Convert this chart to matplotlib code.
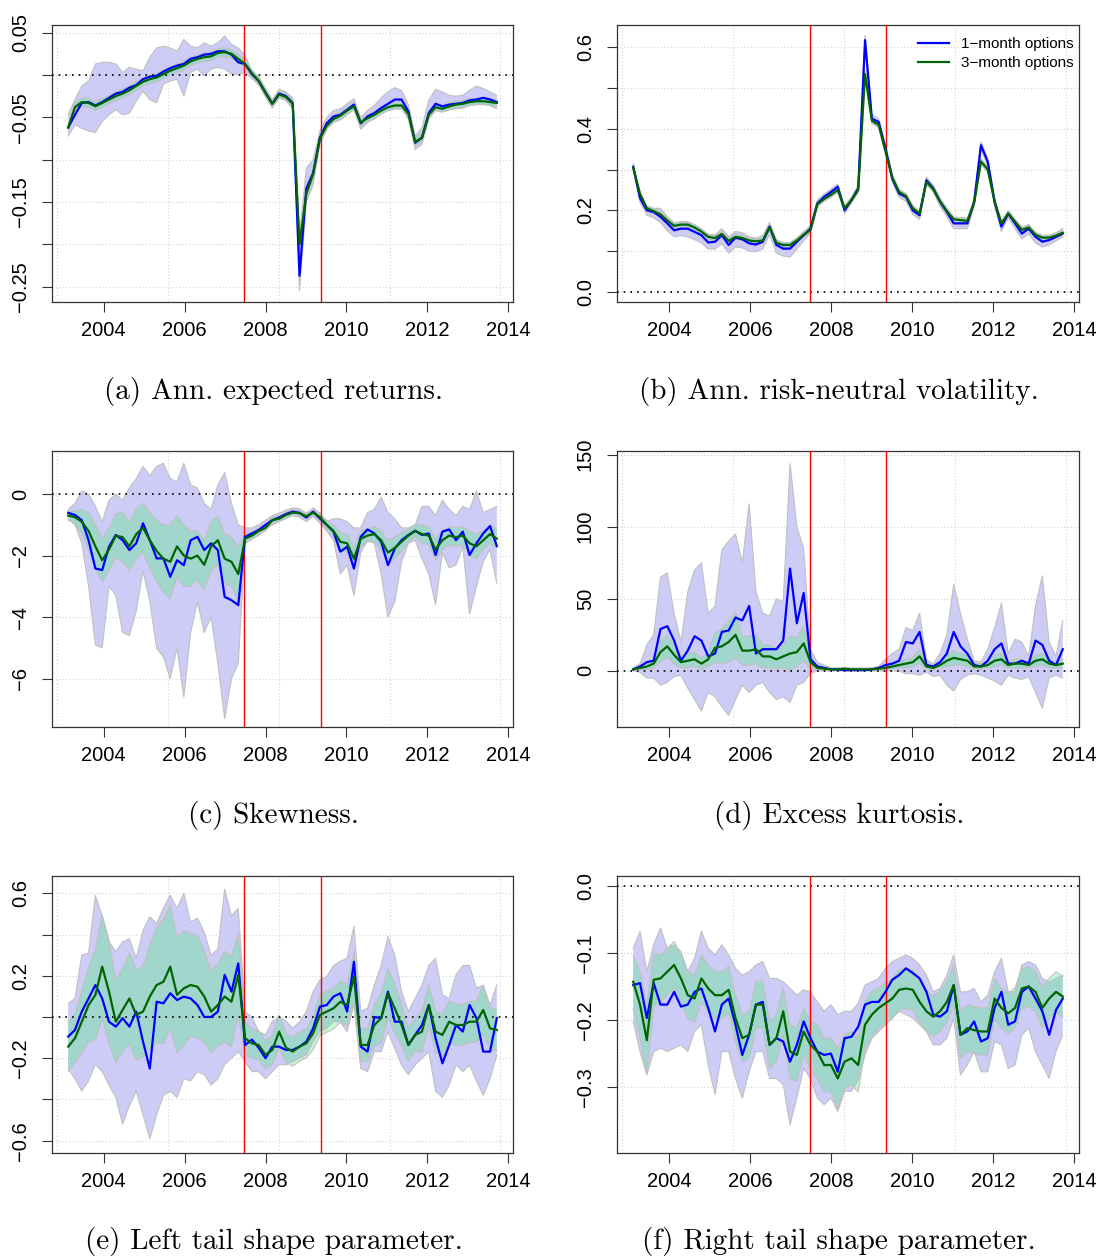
import numpy as np
import matplotlib.pyplot as plt
from matplotlib.ticker import FixedLocator, FixedFormatter

plt.rcParams['font.family'] = ['Liberation Sans', 'DejaVu Sans']

# observation dates (two-monthly, spring 2003 to autumn 2013)
DATES = np.linspace(2003.12, 2013.72, 64)
BREAKS = [2007.48, 2009.36]
YEARS = [2004, 2006, 2008, 2010, 2012, 2014]
GRID_DAYS = [12000, 13000, 14000, 15000, 16000]

# (a) annualised expected returns
A_BLUE = [-0.062, -0.047, -0.033, -0.032, -0.036, -0.032, -0.027, -0.022,
          -0.020, -0.015, -0.012, -0.005, -0.002, -0.001, 0.004, 0.008,
          0.011, 0.013, 0.019, 0.021, 0.024, 0.025, 0.028, 0.028,
          0.024, 0.015, 0.013, 0.001, -0.007, -0.021, -0.034, -0.022,
          -0.025, -0.033, -0.237, -0.134, -0.116, -0.074, -0.057, -0.049,
          -0.047, -0.041, -0.035, -0.057, -0.049, -0.045, -0.039, -0.034,
          -0.029, -0.029, -0.043, -0.080, -0.074, -0.045, -0.034, -0.037,
          -0.035, -0.034, -0.033, -0.030, -0.029, -0.027, -0.029, -0.032]
A_GREEN = [-0.062, -0.038, -0.032, -0.033, -0.037, -0.033, -0.029, -0.025,
           -0.022, -0.018, -0.013, -0.008, -0.005, -0.003, 0.001, 0.005,
           0.008, 0.011, 0.016, 0.019, 0.021, 0.022, 0.026, 0.027,
           0.025, 0.019, 0.013, 0.002, -0.007, -0.021, -0.034, -0.023,
           -0.026, -0.034, -0.200, -0.140, -0.117, -0.075, -0.060, -0.052,
           -0.048, -0.042, -0.037, -0.056, -0.051, -0.047, -0.042, -0.038,
           -0.036, -0.036, -0.046, -0.079, -0.074, -0.047, -0.038, -0.040,
           -0.037, -0.035, -0.034, -0.032, -0.031, -0.031, -0.032, -0.033]
A_HI = [-0.047, -0.029, -0.013, -0.007, 0.013, 0.015, 0.015, 0.013,
        0.003, 0.009, 0.007, 0.005, 0.021, 0.032, 0.034, 0.032,
        0.028, 0.042, 0.034, 0.032, 0.038, 0.034, 0.038, 0.046,
        0.036, 0.032, 0.023, 0.005, -0.002, -0.016, -0.029, -0.017,
        -0.020, -0.027, -0.190, -0.110, -0.100, -0.066, -0.050, -0.042,
        -0.040, -0.034, -0.028, -0.050, -0.042, -0.036, -0.027, -0.020,
        -0.015, -0.018, -0.035, -0.072, -0.062, -0.030, -0.017, -0.020,
        -0.024, -0.025, -0.024, -0.018, -0.013, -0.016, -0.020, -0.024]
A_LO = [-0.072, -0.059, -0.063, -0.066, -0.068, -0.055, -0.047, -0.041,
        -0.047, -0.045, -0.031, -0.019, -0.029, -0.033, -0.011, -0.007,
        -0.005, -0.025, 0.003, 0.007, -0.001, 0.007, 0.009, 0.007,
        0.001, 0.001, 0.003, -0.004, -0.012, -0.026, -0.039, -0.027,
        -0.030, -0.040, -0.255, -0.150, -0.130, -0.082, -0.064, -0.056,
        -0.053, -0.047, -0.041, -0.064, -0.056, -0.052, -0.046, -0.042,
        -0.040, -0.040, -0.052, -0.088, -0.082, -0.052, -0.042, -0.043,
        -0.041, -0.040, -0.039, -0.036, -0.035, -0.034, -0.036, -0.040]
A_GHW = [0.004, 0.005, 0.005, 0.005, 0.005, 0.005, 0.005, 0.005,
         0.005, 0.005, 0.005, 0.005, 0.005, 0.005, 0.005, 0.005,
         0.005, 0.005, 0.005, 0.005, 0.005, 0.005, 0.005, 0.005,
         0.005, 0.005, 0.004, 0.004, 0.004, 0.004, 0.004, 0.004,
         0.004, 0.005, 0.010, 0.008, 0.006, 0.005, 0.004, 0.004,
         0.004, 0.004, 0.004, 0.004, 0.004, 0.004, 0.004, 0.004,
         0.004, 0.004, 0.004, 0.005, 0.005, 0.004, 0.004, 0.004,
         0.004, 0.004, 0.004, 0.004, 0.004, 0.004, 0.004, 0.004]

# (b) annualised risk-neutral volatility
B_BLUE = [0.307, 0.230, 0.200, 0.196, 0.184, 0.168, 0.151, 0.155,
          0.155, 0.147, 0.139, 0.121, 0.123, 0.139, 0.115, 0.133,
          0.129, 0.119, 0.116, 0.123, 0.160, 0.115, 0.106, 0.106,
          0.123, 0.139, 0.155, 0.217, 0.233, 0.245, 0.258, 0.200,
          0.225, 0.254, 0.618, 0.425, 0.417, 0.352, 0.278, 0.241,
          0.233, 0.200, 0.188, 0.274, 0.254, 0.221, 0.196, 0.168,
          0.168, 0.168, 0.221, 0.360, 0.319, 0.221, 0.160, 0.192,
          0.168, 0.143, 0.155, 0.135, 0.123, 0.127, 0.135, 0.143]
B_GREEN = [0.305, 0.240, 0.205, 0.198, 0.190, 0.175, 0.162, 0.165,
           0.165, 0.158, 0.148, 0.135, 0.132, 0.142, 0.125, 0.135,
           0.132, 0.126, 0.124, 0.126, 0.158, 0.120, 0.115, 0.115,
           0.126, 0.140, 0.152, 0.215, 0.228, 0.238, 0.250, 0.205,
           0.225, 0.250, 0.535, 0.420, 0.410, 0.345, 0.280, 0.245,
           0.235, 0.205, 0.192, 0.270, 0.252, 0.222, 0.198, 0.178,
           0.176, 0.174, 0.218, 0.320, 0.300, 0.222, 0.168, 0.192,
           0.172, 0.152, 0.158, 0.140, 0.133, 0.133, 0.138, 0.145]
B_HI = [0.315, 0.240, 0.210, 0.205, 0.205, 0.185, 0.170, 0.172,
        0.172, 0.165, 0.155, 0.140, 0.140, 0.155, 0.135, 0.148,
        0.145, 0.135, 0.132, 0.138, 0.170, 0.128, 0.120, 0.120,
        0.132, 0.148, 0.162, 0.225, 0.240, 0.252, 0.265, 0.210,
        0.232, 0.262, 0.630, 0.435, 0.425, 0.360, 0.288, 0.250,
        0.242, 0.210, 0.198, 0.282, 0.262, 0.230, 0.205, 0.182,
        0.182, 0.180, 0.228, 0.368, 0.328, 0.230, 0.170, 0.200,
        0.178, 0.158, 0.165, 0.145, 0.135, 0.138, 0.145, 0.155]
B_LO = [0.298, 0.220, 0.188, 0.182, 0.170, 0.150, 0.135, 0.138,
        0.135, 0.128, 0.120, 0.105, 0.105, 0.118, 0.095, 0.110,
        0.108, 0.100, 0.098, 0.105, 0.140, 0.095, 0.088, 0.085,
        0.105, 0.125, 0.145, 0.208, 0.225, 0.238, 0.250, 0.192,
        0.218, 0.246, 0.600, 0.415, 0.405, 0.340, 0.268, 0.232,
        0.222, 0.190, 0.178, 0.265, 0.245, 0.210, 0.185, 0.155,
        0.155, 0.155, 0.210, 0.350, 0.308, 0.210, 0.148, 0.182,
        0.155, 0.130, 0.142, 0.120, 0.110, 0.115, 0.125, 0.135]
B_GHW = [0.006, 0.006, 0.006, 0.006, 0.006, 0.006, 0.006, 0.006,
         0.006, 0.006, 0.006, 0.006, 0.006, 0.006, 0.006, 0.006,
         0.006, 0.006, 0.006, 0.006, 0.006, 0.006, 0.006, 0.006,
         0.006, 0.006, 0.006, 0.006, 0.006, 0.006, 0.006, 0.006,
         0.006, 0.006, 0.008, 0.007, 0.007, 0.006, 0.006, 0.006,
         0.006, 0.006, 0.006, 0.006, 0.006, 0.006, 0.006, 0.006,
         0.006, 0.006, 0.006, 0.007, 0.007, 0.006, 0.006, 0.006,
         0.006, 0.006, 0.006, 0.006, 0.006, 0.006, 0.006, 0.006]

# (c) skewness
C_BLUE = [-0.61, -0.68, -0.85, -1.50, -2.42, -2.47, -1.71, -1.33,
          -1.50, -1.82, -1.60, -0.95, -1.50, -2.09, -2.09, -2.69,
          -2.15, -2.31, -1.50, -1.39, -1.82, -1.60, -1.82, -3.34,
          -3.45, -3.61, -1.39, -1.28, -1.17, -1.00, -0.85, -0.76,
          -0.65, -0.57, -0.61, -0.76, -0.57, -0.79, -1.00, -1.22,
          -1.87, -1.71, -2.42, -1.39, -1.15, -1.28, -1.55, -2.31,
          -1.77, -1.50, -1.33, -1.19, -1.33, -1.28, -1.98, -1.22,
          -1.15, -1.50, -1.22, -1.98, -1.60, -1.28, -1.04, -1.69]
C_GREEN = [-0.70, -0.75, -0.90, -1.20, -1.70, -2.15, -1.80, -1.35,
           -1.40, -1.70, -1.30, -1.10, -1.50, -1.85, -2.10, -2.20,
           -1.70, -2.00, -2.10, -2.00, -2.30, -1.70, -1.50, -2.10,
           -2.20, -2.60, -1.45, -1.35, -1.20, -1.10, -0.85, -0.80,
           -0.68, -0.60, -0.62, -0.72, -0.60, -0.75, -1.00, -1.20,
           -1.55, -1.60, -2.10, -1.45, -1.35, -1.30, -1.50, -1.90,
           -1.75, -1.55, -1.35, -1.20, -1.30, -1.35, -1.80, -1.50,
           -1.35, -1.40, -1.35, -1.60, -1.70, -1.50, -1.30, -1.45]
C_HI = [-0.50, -0.30, 0.10, 0.00, -0.40, -0.90, -0.20, 0.00,
        -0.20, 0.20, 0.50, 0.90, 0.60, 0.90, 1.00, 0.50,
        0.40, 1.00, 0.30, 0.20, -0.30, -0.50, 0.30, 0.70,
        -0.30, -1.00, -1.10, -1.10, -1.00, -0.85, -0.70, -0.62,
        -0.52, -0.45, -0.48, -0.62, -0.45, -0.62, -0.90, -0.80,
        -0.80, -0.90, -1.10, -1.10, -0.60, -0.50, -0.10, -0.60,
        -0.80, -1.10, -1.10, -1.00, -0.40, -0.40, -0.70, -0.20,
        -0.50, -0.70, -0.40, -0.50, 0.10, -0.60, -0.50, -0.40]
C_LO = [-0.80, -1.00, -1.60, -3.00, -4.90, -5.00, -3.00, -3.30,
        -4.50, -4.60, -3.80, -2.50, -3.50, -5.00, -5.30, -6.00,
        -5.00, -6.60, -4.50, -3.50, -4.50, -4.00, -5.50, -7.30,
        -6.00, -5.50, -1.60, -1.45, -1.35, -1.15, -1.00, -0.90,
        -0.80, -0.70, -0.75, -0.90, -0.72, -0.95, -1.20, -1.50,
        -2.60, -2.30, -3.30, -1.90, -1.50, -1.60, -2.60, -4.00,
        -3.50, -2.20, -1.60, -1.50, -2.10, -2.60, -3.60, -1.90,
        -2.40, -2.30, -1.70, -3.90, -3.00, -2.20, -1.80, -2.90]
C_GHW = [0.15, 0.20, 0.40, 0.60, 0.70, 0.70, 0.70, 0.70,
         0.80, 0.80, 0.80, 0.80, 0.90, 1.00, 1.10, 1.20,
         1.00, 1.00, 0.90, 0.80, 0.80, 0.80, 0.80, 0.80,
         0.80, 0.90, 0.15, 0.12, 0.10, 0.10, 0.10, 0.08,
         0.08, 0.08, 0.08, 0.08, 0.08, 0.10, 0.15, 0.20,
         0.30, 0.30, 0.35, 0.25, 0.20, 0.25, 0.30, 0.40,
         0.35, 0.30, 0.20, 0.20, 0.30, 0.30, 0.35, 0.30,
         0.30, 0.30, 0.30, 0.40, 0.40, 0.30, 0.30, 0.30]

# (d) excess kurtosis
D_BLUE = [1, 3, 6, 7, 29, 31, 21, 7,
          14, 24, 21, 10, 12, 27, 28, 37,
          35, 45, 12, 15, 15, 15, 21, 71,
          33, 54, 8, 3, 2, 1, 1, 0.5,
          0.5, 0.5, 0.5, 1, 2, 4, 5, 7,
          20, 19, 27, 4, 3, 6, 12, 27,
          17, 12, 4, 3, 7, 15, 19, 5,
          5, 7, 5, 21, 18, 7, 4, 15]
D_GREEN = [1, 2, 3, 5, 13, 17, 11, 6,
           7, 8, 5, 8, 16, 17, 20, 25,
           14, 14, 15, 10, 10, 8, 10, 12,
           13, 19, 6, 2, 1.5, 1, 1, 1.5,
           1, 1, 1, 1, 1.5, 2, 3, 4,
           5, 6, 10, 3, 2, 4, 7, 9,
           8, 7, 3, 3, 4, 7, 8, 4,
           5, 5, 4, 7, 8, 5, 4, 5]
D_HI = [2, 5, 18, 25, 65, 68, 40, 20,
        55, 70, 75, 40, 45, 84, 90, 95,
        75, 116, 55, 40, 38, 50, 48, 144,
        100, 85, 15, 6, 4, 2, 2, 2,
        2, 2, 2, 2, 3, 8, 12, 15,
        30, 28, 40, 8, 5, 12, 25, 60,
        40, 22, 7, 6, 15, 30, 47, 12,
        22, 20, 10, 45, 66, 20, 10, 35]
D_LO = [0, -1, -5, -5, -10, -8, -4, -3,
        -12, -20, -28, -15, -18, -25, -31, -20,
        -10, -15, -10, -8, -15, -20, -18, -22,
        -10, -8, -2, 0, 0, 0, 0, 0,
        0, 0, 0, 0, 0, 0, 0, 0,
        -2, -2, -3, -1, -4, -3, -10, -14,
        -6, -3, -2, -3, -5, -7, -10, -3,
        -5, -6, -4, -15, -26, -5, -3, -5]
D_GHW = [0.5, 1, 2, 3, 7, 8, 6, 4,
         5, 5, 4, 5, 10, 12, 14, 16,
         10, 10, 10, 8, 8, 7, 8, 12,
         10, 12, 5, 1, 1, 0.5, 0.5, 0.5,
         0.5, 0.5, 0.5, 0.5, 0.5, 1, 1.5, 2,
         3, 3, 5, 2, 1.5, 2, 4, 5,
         4, 4, 2, 2, 2, 4, 4, 2,
         3, 3, 2, 4, 4, 3, 2, 3]

# (e) left tail shape parameter
E_BLUE = [-0.095, -0.063, 0.026, 0.090, 0.155, 0.090, -0.023, -0.047,
          -0.006, -0.047, 0.026, -0.120, -0.250, 0.074, 0.066, 0.115,
          0.082, 0.099, 0.090, 0.058, 0.000, 0.000, 0.026, 0.204,
          0.123, 0.260, -0.136, -0.110, -0.149, -0.200, -0.144, -0.144,
          -0.160, -0.160, -0.144, -0.120, -0.055, 0.050, 0.058, 0.099,
          0.115, 0.026, 0.268, -0.144, -0.168, 0.000, -0.006, 0.123,
          -0.023, -0.023, -0.136, -0.087, -0.039, 0.058, -0.103, -0.225,
          -0.136, -0.039, -0.071, 0.058, -0.006, -0.168, -0.168, -0.006]
E_GREEN = [-0.144, -0.103, -0.023, 0.058, 0.107, 0.244, 0.123, -0.023,
           0.034, 0.090, 0.010, 0.026, 0.099, 0.155, 0.171, 0.244,
           0.107, 0.139, 0.155, 0.147, 0.099, 0.026, 0.058, 0.099,
           0.074, 0.204, -0.103, -0.128, -0.136, -0.184, -0.160, -0.071,
           -0.149, -0.168, -0.144, -0.128, -0.079, 0.010, 0.026, 0.042,
           0.074, 0.058, 0.196, -0.136, -0.136, -0.039, -0.006, 0.115,
           0.042, -0.039, -0.136, -0.087, -0.071, 0.058, -0.071, -0.087,
           -0.023, -0.039, -0.039, -0.023, -0.023, 0.034, -0.055, -0.063]
E_HI = [0.066, 0.090, 0.300, 0.310, 0.590, 0.490, 0.365, 0.317,
        0.365, 0.380, 0.285, 0.420, 0.486, 0.454, 0.527, 0.590,
        0.527, 0.600, 0.460, 0.480, 0.410, 0.300, 0.330, 0.620,
        0.490, 0.527, 0.026, 0.000, -0.070, -0.087, -0.023, 0.000,
        -0.020, -0.055, -0.023, 0.026, 0.123, 0.180, 0.196, 0.250,
        0.270, 0.285, 0.440, 0.026, 0.042, 0.155, 0.250, 0.390,
        0.300, 0.123, 0.026, 0.090, 0.155, 0.250, 0.285, 0.107,
        0.090, 0.204, 0.250, 0.250, 0.139, 0.155, 0.058, 0.155]
E_LO = [-0.250, -0.300, -0.360, -0.310, -0.230, -0.265, -0.330, -0.390,
        -0.520, -0.430, -0.360, -0.475, -0.590, -0.475, -0.380, -0.360,
        -0.390, -0.300, -0.310, -0.265, -0.280, -0.330, -0.300, -0.230,
        -0.200, -0.168, -0.217, -0.265, -0.265, -0.300, -0.265, -0.230,
        -0.233, -0.217, -0.200, -0.184, -0.120, -0.071, -0.055, -0.023,
        -0.023, -0.071, 0.058, -0.250, -0.265, -0.168, -0.168, -0.071,
        -0.152, -0.233, -0.280, -0.233, -0.200, -0.168, -0.360, -0.390,
        -0.330, -0.233, -0.265, -0.233, -0.310, -0.380, -0.300, -0.184]
E_GHW = [0.12, 0.12, 0.15, 0.18, 0.22, 0.25, 0.25, 0.20,
         0.20, 0.22, 0.22, 0.22, 0.25, 0.28, 0.30, 0.30,
         0.28, 0.28, 0.25, 0.25, 0.22, 0.20, 0.20, 0.22,
         0.22, 0.20, 0.08, 0.07, 0.07, 0.07, 0.07, 0.08,
         0.07, 0.07, 0.07, 0.07, 0.08, 0.10, 0.10, 0.10,
         0.10, 0.10, 0.12, 0.08, 0.08, 0.10, 0.12, 0.12,
         0.12, 0.10, 0.08, 0.08, 0.10, 0.10, 0.10, 0.10,
         0.10, 0.10, 0.10, 0.10, 0.10, 0.12, 0.10, 0.10]

# (f) right tail shape parameter
F_BLUE = [-0.148, -0.145, -0.197, -0.145, -0.177, -0.177, -0.158, -0.180,
          -0.177, -0.158, -0.153, -0.182, -0.217, -0.177, -0.168, -0.207,
          -0.252, -0.222, -0.177, -0.173, -0.237, -0.227, -0.232, -0.262,
          -0.237, -0.202, -0.227, -0.247, -0.252, -0.250, -0.277, -0.227,
          -0.225, -0.210, -0.177, -0.173, -0.173, -0.158, -0.140, -0.133,
          -0.123, -0.130, -0.138, -0.158, -0.192, -0.195, -0.187, -0.148,
          -0.222, -0.217, -0.202, -0.232, -0.227, -0.182, -0.158, -0.207,
          -0.202, -0.158, -0.150, -0.168, -0.187, -0.222, -0.185, -0.168]
F_GREEN = [-0.143, -0.177, -0.230, -0.140, -0.138, -0.128, -0.118, -0.138,
           -0.163, -0.168, -0.138, -0.153, -0.163, -0.163, -0.155, -0.197,
           -0.227, -0.222, -0.177, -0.177, -0.237, -0.227, -0.187, -0.247,
           -0.252, -0.217, -0.237, -0.247, -0.267, -0.267, -0.287, -0.262,
           -0.257, -0.267, -0.207, -0.192, -0.182, -0.175, -0.168, -0.155,
           -0.153, -0.155, -0.173, -0.187, -0.195, -0.187, -0.173, -0.148,
           -0.222, -0.212, -0.215, -0.217, -0.217, -0.168, -0.182, -0.190,
           -0.182, -0.153, -0.150, -0.158, -0.182, -0.168, -0.158, -0.165]
F_HI = [-0.093, -0.068, -0.128, -0.088, -0.063, -0.093, -0.088, -0.098,
        -0.128, -0.108, -0.068, -0.093, -0.103, -0.088, -0.103, -0.123,
        -0.133, -0.128, -0.118, -0.113, -0.138, -0.138, -0.143, -0.153,
        -0.163, -0.155, -0.158, -0.173, -0.187, -0.177, -0.192, -0.187,
        -0.187, -0.175, -0.148, -0.143, -0.138, -0.123, -0.113, -0.108,
        -0.103, -0.108, -0.118, -0.133, -0.158, -0.153, -0.133, -0.103,
        -0.158, -0.158, -0.153, -0.173, -0.163, -0.128, -0.108, -0.158,
        -0.158, -0.118, -0.113, -0.118, -0.138, -0.143, -0.138, -0.133]
F_LO = [-0.202, -0.247, -0.282, -0.247, -0.242, -0.247, -0.242, -0.237,
        -0.247, -0.217, -0.207, -0.267, -0.311, -0.247, -0.247, -0.287,
        -0.316, -0.277, -0.247, -0.247, -0.287, -0.287, -0.296, -0.356,
        -0.316, -0.272, -0.287, -0.316, -0.326, -0.316, -0.336, -0.306,
        -0.306, -0.290, -0.252, -0.227, -0.217, -0.207, -0.197, -0.187,
        -0.192, -0.197, -0.207, -0.217, -0.237, -0.237, -0.227, -0.197,
        -0.282, -0.267, -0.247, -0.277, -0.277, -0.232, -0.237, -0.272,
        -0.267, -0.222, -0.212, -0.247, -0.267, -0.287, -0.247, -0.222]
F_GHW = [0.040, 0.050, 0.050, 0.040, 0.035, 0.035, 0.035, 0.035,
         0.035, 0.035, 0.035, 0.035, 0.035, 0.035, 0.035, 0.035,
         0.035, 0.035, 0.035, 0.035, 0.035, 0.035, 0.035, 0.040,
         0.040, 0.035, 0.035, 0.040, 0.040, 0.040, 0.045, 0.040,
         0.040, 0.040, 0.035, 0.035, 0.030, 0.030, 0.030, 0.030,
         0.030, 0.030, 0.030, 0.030, 0.030, 0.030, 0.030, 0.030,
         0.035, 0.035, 0.035, 0.035, 0.035, 0.030, 0.030, 0.030,
         0.030, 0.030, 0.030, 0.030, 0.030, 0.030, 0.030, 0.030]

CAPTIONS = ['(a) Ann. expected returns.', '(b) Ann. risk-neutral volatility.',
            '(c) Skewness.', '(d) Excess kurtosis.',
            '(e) Left tail shape parameter.', '(f) Right tail shape parameter.']
LEGEND = ['1\u2212month options', '3\u2212month options']

PANELS = [
    (A_BLUE, A_GREEN, A_LO, A_HI, A_GHW, (-0.268, 0.059),
     [0.05, 0.0, -0.05, -0.10, -0.15, -0.20, -0.25],
     ['0.05', '', '\u22120.05', '', '\u22120.15', '', '\u22120.25']),
    (B_BLUE, B_GREEN, B_LO, B_HI, B_GHW, (-0.025, 0.655),
     [0.0, 0.1, 0.2, 0.3, 0.4, 0.5, 0.6],
     ['0.0', '', '0.2', '', '0.4', '', '0.6']),
    (C_BLUE, C_GREEN, C_LO, C_HI, C_GHW, (-7.57, 1.40),
     [0, -2, -4, -6], ['0', '\u22122', '\u22124', '\u22126']),
    (D_BLUE, D_GREEN, D_LO, D_HI, D_GHW, (-39, 152.6),
     [0, 50, 100, 150], ['0', '50', '100', '150']),
    (E_BLUE, E_GREEN, E_LO, E_HI, E_GHW, (-0.66, 0.684),
     [0.6, 0.4, 0.2, 0.0, -0.2, -0.4, -0.6],
     ['0.6', '', '0.2', '', '\u22120.2', '', '\u22120.6']),
    (F_BLUE, F_GREEN, F_LO, F_HI, F_GHW, (-0.398, 0.0145),
     [0.0, -0.1, -0.2, -0.3], ['0.0', '\u22120.1', '\u22120.2', '\u22120.3']),
]

W, H = 1100, 1256
fig = plt.figure(figsize=(W / 100, H / 100), dpi=100)

grid_x = 1970 + np.array(GRID_DAYS) / 365.25
boxes_x = [(52, 513), (617, 1079)]
boxes_y = [(25, 302), (451, 727), (876, 1153)]

for k, (blue, green, lo, hi, ghw, ylim, yt, ylab) in enumerate(PANELS):
    row, col = divmod(k, 2)
    x0, x1 = boxes_x[col]
    y0, y1 = boxes_y[row]
    ax = fig.add_axes([x0 / W, 1 - y1 / H, (x1 - x0) / W, (y1 - y0) / H])
    blue = np.array(blue, float)
    green = np.array(green, float)
    ghw = np.array(ghw, float)

    for gx in grid_x:
        ax.axvline(gx, color='#d3d3d3', lw=0.8, ls=(0, (1, 2)), zorder=0)
    for gy in yt:
        ax.axhline(gy, color='#d3d3d3', lw=0.8, ls=(0, (1, 2)), zorder=0)

    ax.fill_between(DATES, lo, hi, facecolor='#ccccf6', edgecolor='none', zorder=1)
    ax.fill_between(DATES, green - ghw, green + ghw, facecolor='#40ee70',
                    alpha=0.3, edgecolor='none', zorder=2)
    for edge in (lo, hi, green - ghw, green + ghw):
        ax.plot(DATES, edge, color='#c0c0c0', lw=0.8, zorder=2.5)

    ax.axhline(0, color='black', lw=1.2, ls=(0, (1, 3)), zorder=3)
    for b in BREAKS:
        ax.axvline(b, color='red', lw=1.0, zorder=3)
    l1, = ax.plot(DATES, blue, color='blue', lw=1.6, zorder=4)
    l2, = ax.plot(DATES, green, color='#006400', lw=1.6, zorder=5)

    ax.set_xlim(2002.72, 2014.12)
    ax.set_ylim(*ylim)
    ax.set_xticks(YEARS)
    ax.yaxis.set_major_locator(FixedLocator(yt))
    ax.yaxis.set_major_formatter(FixedFormatter(ylab))
    ax.tick_params(direction='out', length=7, width=0.8, labelsize=14.5, color='#333333')
    ax.tick_params(axis='x', pad=7)
    ax.tick_params(axis='y', labelrotation=90, pad=9)
    for lab in ax.get_yticklabels():
        lab.set_va('center')
    for s in ax.spines.values():
        s.set_color('#333333')
        s.set_linewidth(0.9)

    if k == 1:
        ax.legend([l1, l2], LEGEND, loc='upper right', bbox_to_anchor=(0.988, 0.955),
                  frameon=False, fontsize=11, handlelength=2.0, handletextpad=0.8,
                  labelspacing=0.3, borderpad=0, borderaxespad=0)

    cx = (x0 + x1) / 2 - 9
    fig.text(cx / W, 1 - (y1 + 89) / H, CAPTIONS[k], family='cmr10', fontsize=21,
             ha='center', va='center')

fig.savefig('out.png', dpi=100)
